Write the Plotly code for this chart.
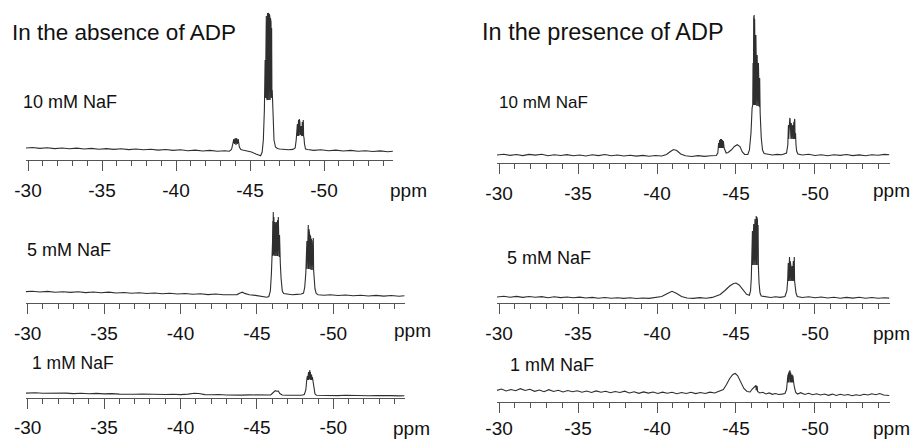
import plotly.graph_objects as go

# ---------------- data: (chemical shift ppm, signal intensity) ----------------
tick_values = [-30, -35, -40, -45, -50]
tick_labels = ["-30", "-35", "-40", "-45", "-50"]
unit_label = "ppm"
panel_titles = ["In the absence of ADP", "In the presence of ADP"]
conc_labels = ["10 mM NaF", "5 mM NaF", "1 mM NaF"]

abs_10mM = [
    (-29.85, 12.0), (-30.3, 12.5), (-30.8, 11.6), (-31.3, 12.2), (-31.8, 11.4), (-32.3, 12.0), (-32.8, 11.3),
    (-33.3, 11.9), (-33.8, 11.0), (-34.3, 11.6), (-34.8, 10.8), (-35.3, 11.4), (-35.8, 10.6), (-36.3, 11.2),
    (-36.8, 10.4), (-37.3, 11.0), (-37.8, 10.2), (-38.3, 10.8), (-38.8, 9.9), (-39.3, 10.5), (-39.8, 9.6),
    (-40.3, 10.2), (-40.8, 9.3), (-41.3, 9.9), (-41.8, 9.0), (-42.3, 9.6), (-42.8, 8.8), (-43.3, 9.3), (-43.6, 8.8),
    (-43.75, 10.5), (-43.85, 17), (-43.9, 21), (-43.95, 16), (-44.0, 22), (-44.05, 15), (-44.1, 22), (-44.15, 16),
    (-44.2, 21), (-44.28, 13), (-44.38, 10.5), (-44.5, 10.0), (-44.8, 9.3), (-45.1, 8.0), (-45.4, 6.0),
    (-45.6, 4.8), (-45.72, 4.3), (-45.82, 8), (-45.9, 20), (-45.97, 50),
    (-46.02, 100), (-46.04, 62), (-46.06, 140), (-46.08, 64), (-46.1, 144), (-46.12, 62), (-46.14, 146),
    (-46.16, 60), (-46.18, 147), (-46.2, 60), (-46.22, 147), (-46.24, 60), (-46.26, 146), (-46.28, 60),
    (-46.3, 146), (-46.32, 60), (-46.34, 144), (-46.36, 60), (-46.38, 142), (-46.4, 62), (-46.42, 138),
    (-46.44, 62), (-46.46, 132), (-46.48, 64), (-46.5, 70), (-46.55, 40),
    (-46.62, 20), (-46.72, 13), (-46.85, 11.5), (-47.0, 11.0), (-47.3, 10.5), (-47.6, 10.3), (-47.9, 10.6),
    (-48.05, 12), (-48.12, 20), (-48.16, 32), (-48.18, 24), (-48.2, 36), (-48.22, 24), (-48.24, 38),
    (-48.26, 24), (-48.28, 40), (-48.3, 24), (-48.33, 41), (-48.35, 24), (-48.37, 38), (-48.39, 25),
    (-48.41, 34), (-48.43, 25), (-48.45, 34), (-48.47, 25), (-48.49, 36), (-48.51, 24), (-48.53, 38),
    (-48.55, 24), (-48.57, 39), (-48.6, 40), (-48.62, 24), (-48.65, 22), (-48.68, 16),
    (-48.75, 11), (-48.9, 10.5), (-49.3, 9.6), (-49.8, 10.2), (-50.3, 9.3), (-50.8, 9.9), (-51.3, 9.0),
    (-51.8, 9.6), (-52.3, 8.7), (-52.8, 9.3), (-53.3, 8.5), (-53.8, 9.1), (-54.3, 8.3), (-54.65, 8.8),
]

abs_5mM = [
    (-29.85, 11.3), (-30.3, 11.8), (-30.8, 11.0), (-31.3, 11.6), (-31.8, 10.8), (-32.3, 11.3), (-32.8, 10.6),
    (-33.3, 11.2), (-33.8, 10.4), (-34.3, 11.0), (-34.8, 10.2), (-35.3, 10.9), (-35.8, 10.0), (-36.3, 10.5),
    (-36.8, 9.8), (-37.3, 10.3), (-37.8, 9.5), (-38.3, 10.0), (-38.8, 9.2), (-39.3, 9.8), (-39.8, 9.0),
    (-40.3, 9.5), (-40.8, 8.7), (-41.3, 9.2), (-41.8, 8.4), (-42.3, 9.0), (-42.8, 8.2), (-43.3, 8.7),
    (-43.7, 8.4), (-43.9, 10.0), (-44.05, 10.8), (-44.2, 9.6), (-44.5, 8.2), (-44.9, 7.6), (-45.2, 7.0),
    (-45.5, 6.0), (-45.65, 5.7), (-45.78, 6.5), (-45.88, 12), (-45.95, 30), (-46.0, 45),
    (-46.02, 60), (-46.04, 82), (-46.05, 47), (-46.07, 91), (-46.09, 48), (-46.11, 86), (-46.13, 47),
    (-46.15, 83), (-46.17, 47), (-46.19, 81), (-46.21, 47), (-46.23, 80), (-46.25, 47), (-46.27, 80),
    (-46.29, 47), (-46.31, 81), (-46.33, 47), (-46.35, 83), (-46.37, 47), (-46.4, 86), (-46.42, 47),
    (-46.44, 76), (-46.46, 46), (-46.48, 68), (-46.5, 46), (-46.53, 40),
    (-46.58, 25), (-46.66, 12), (-46.75, 9.5), (-47.0, 8.8), (-47.3, 8.3), (-47.6, 8.6), (-47.9, 9.0),
    (-48.05, 10), (-48.13, 16), (-48.2, 30), (-48.23, 50), (-48.25, 34), (-48.27, 62), (-48.29, 34),
    (-48.31, 70), (-48.33, 34), (-48.36, 78), (-48.38, 34), (-48.4, 74), (-48.42, 34), (-48.44, 70),
    (-48.46, 34), (-48.48, 68), (-48.5, 34), (-48.52, 66), (-48.54, 33), (-48.56, 64), (-48.58, 33),
    (-48.6, 62), (-48.62, 33), (-48.64, 60), (-48.66, 33), (-48.69, 65), (-48.71, 33), (-48.74, 28),
    (-48.8, 14), (-48.88, 9.5), (-49.0, 8.3), (-49.4, 7.8), (-49.8, 8.2), (-50.3, 7.5), (-50.8, 8.0),
    (-51.3, 7.2), (-51.8, 7.8), (-52.3, 7.0), (-52.8, 7.6), (-53.3, 6.9), (-53.8, 7.5), (-54.3, 6.8),
    (-54.65, 7.2),
]

abs_1mM = [
    (-29.85, 4.8), (-30.5, 5.2), (-31.0, 4.7), (-31.5, 5.0), (-32.0, 4.6), (-32.5, 4.9), (-33.0, 4.4),
    (-33.5, 4.8), (-34.0, 4.3), (-34.5, 4.6), (-35.0, 4.1), (-35.5, 4.4), (-36.0, 3.9), (-36.5, 4.2),
    (-37.0, 3.8), (-37.5, 4.0), (-38.0, 3.6), (-38.5, 3.9), (-39.0, 3.5), (-39.5, 3.8), (-40.0, 3.4),
    (-40.5, 3.9), (-40.9, 4.8), (-41.2, 4.5), (-41.6, 3.4), (-42.0, 3.2), (-42.5, 3.5), (-43.0, 3.0),
    (-43.5, 3.3), (-44.0, 2.9), (-44.5, 3.1), (-45.0, 2.8), (-45.5, 3.0), (-45.9, 3.0), (-46.0, 4.5),
    (-46.1, 6.5), (-46.2, 7.3), (-46.3, 6.8), (-46.4, 7.0), (-46.5, 4.5), (-46.65, 3.0), (-47.0, 2.8),
    (-47.5, 2.7), (-47.9, 2.8), (-48.1, 3.5), (-48.2, 8), (-48.26, 18), (-48.3, 22), (-48.32, 18),
    (-48.34, 23), (-48.36, 18), (-48.38, 26), (-48.4, 18), (-48.42, 27), (-48.44, 18), (-48.46, 28),
    (-48.48, 19), (-48.5, 26), (-48.52, 18), (-48.54, 24), (-48.56, 18), (-48.58, 23), (-48.6, 18),
    (-48.63, 21), (-48.66, 17), (-48.72, 10), (-48.8, 4), (-48.9, 2.8), (-49.3, 2.6), (-49.8, 2.9),
    (-50.3, 2.4), (-50.8, 2.7), (-51.3, 2.3), (-51.8, 2.6), (-52.3, 2.2), (-52.8, 2.5), (-53.3, 2.1),
    (-53.8, 2.4), (-54.3, 2.1), (-54.65, 2.3),
]

pres_10mM = [
    (-29.85, 8.0), (-30.3, 8.8), (-30.7, 7.6), (-31.1, 8.5), (-31.5, 7.4), (-31.9, 8.6), (-32.3, 7.9),
    (-32.7, 8.8), (-33.1, 7.3), (-33.5, 8.3), (-33.9, 7.5), (-34.3, 8.4), (-34.7, 7.2), (-35.1, 8.0),
    (-35.5, 7.0), (-35.9, 8.2), (-36.3, 7.4), (-36.7, 8.5), (-37.1, 7.2), (-37.5, 8.0), (-37.9, 7.0),
    (-38.3, 7.8), (-38.7, 6.9), (-39.1, 7.6), (-39.5, 6.8), (-39.9, 7.5), (-40.3, 7.0), (-40.6, 8.5),
    (-40.85, 11.5), (-41.05, 13.5), (-41.25, 12.5), (-41.5, 9.0), (-41.8, 7.2), (-42.2, 6.5), (-42.6, 7.4),
    (-43.0, 6.6), (-43.4, 7.2), (-43.75, 7.5), (-43.85, 10), (-43.9, 20), (-43.93, 15), (-43.96, 23),
    (-43.99, 15), (-44.02, 24), (-44.05, 15), (-44.08, 24), (-44.11, 15), (-44.14, 23), (-44.17, 15),
    (-44.2, 22), (-44.25, 15), (-44.3, 12), (-44.38, 10),
    (-44.5, 10.5), (-44.7, 13), (-44.9, 16.5), (-45.08, 18.3), (-45.25, 16.5), (-45.4, 11), (-45.55, 8.5),
    (-45.75, 8.5), (-45.85, 13), (-45.95, 30), (-46.02, 55), (-46.06, 58), (-46.08, 100), (-46.1, 58),
    (-46.12, 145), (-46.14, 58), (-46.15, 148), (-46.17, 58), (-46.18, 144), (-46.2, 58), (-46.22, 136),
    (-46.24, 58), (-46.26, 128), (-46.28, 58), (-46.3, 118), (-46.32, 57), (-46.34, 108), (-46.36, 57),
    (-46.38, 104), (-46.4, 57), (-46.42, 100), (-46.44, 57), (-46.46, 96), (-46.48, 56), (-46.5, 85),
    (-46.53, 50), (-46.6, 25),
    (-46.68, 13), (-46.78, 9.5), (-47.0, 8.8), (-47.3, 8.0), (-47.6, 8.6), (-47.9, 8.2), (-48.2, 10),
    (-48.28, 18), (-48.3, 28), (-48.32, 38), (-48.34, 24), (-48.36, 42), (-48.38, 24), (-48.4, 44),
    (-48.42, 45), (-48.44, 24), (-48.46, 42), (-48.48, 24), (-48.5, 40), (-48.52, 24), (-48.54, 38),
    (-48.56, 24), (-48.58, 37), (-48.6, 24), (-48.62, 38), (-48.64, 24), (-48.66, 41), (-48.68, 24),
    (-48.7, 43), (-48.72, 44), (-48.74, 24), (-48.77, 30), (-48.8, 18), (-48.84, 12),
    (-48.92, 9), (-49.2, 8.0), (-49.6, 8.8), (-50.0, 7.5), (-50.4, 8.3), (-50.8, 7.3), (-51.2, 8.2),
    (-51.6, 7.6), (-52.0, 8.5), (-52.4, 7.4), (-52.8, 8.1), (-53.2, 7.2), (-53.6, 8.3), (-54.0, 7.8),
    (-54.4, 8.6), (-54.7, 8.2),
]

pres_5mM = [
    (-29.85, 6.0), (-30.3, 6.8), (-30.7, 5.8), (-31.1, 6.6), (-31.5, 5.6), (-31.9, 6.5), (-32.3, 5.7),
    (-32.7, 6.4), (-33.1, 5.3), (-33.5, 6.2), (-33.9, 5.4), (-34.3, 6.0), (-34.7, 5.2), (-35.1, 5.9),
    (-35.5, 5.0), (-35.9, 5.6), (-36.3, 4.8), (-36.7, 5.5), (-37.1, 4.7), (-37.5, 5.3), (-37.9, 4.6),
    (-38.3, 5.2), (-38.7, 4.5), (-39.1, 5.0), (-39.5, 4.6), (-39.9, 5.3), (-40.3, 6.5), (-40.6, 9.0),
    (-40.95, 11.7), (-41.25, 9.5), (-41.55, 6.5), (-41.9, 5.0), (-42.3, 4.6), (-42.7, 5.4), (-43.1, 4.8),
    (-43.5, 5.6), (-43.8, 7.5), (-44.0, 8.5), (-44.3, 12.5), (-44.6, 17.0), (-44.85, 19.5), (-45.0, 20.0),
    (-45.2, 18.0), (-45.45, 12.5), (-45.67, 8.7), (-45.85, 7.8), (-45.92, 12), (-45.97, 25), (-46.0, 45),
    (-46.02, 50), (-46.04, 72), (-46.06, 38), (-46.08, 76), (-46.1, 38), (-46.12, 79), (-46.14, 38),
    (-46.16, 82), (-46.18, 38), (-46.2, 84), (-46.22, 38), (-46.24, 85), (-46.26, 38), (-46.28, 87),
    (-46.3, 38), (-46.32, 86), (-46.34, 38), (-46.36, 83), (-46.38, 38), (-46.4, 78), (-46.42, 36),
    (-46.46, 20), (-46.52, 10), (-46.6, 7), (-46.9, 6.2), (-47.2, 5.5), (-47.5, 6.3), (-47.8, 5.6),
    (-48.1, 6.5), (-48.22, 12), (-48.27, 22), (-48.29, 36), (-48.31, 40), (-48.33, 22), (-48.35, 44),
    (-48.37, 22), (-48.39, 46), (-48.41, 22), (-48.43, 42), (-48.45, 22), (-48.47, 38), (-48.49, 22),
    (-48.51, 36), (-48.53, 22), (-48.55, 37), (-48.57, 22), (-48.59, 39), (-48.61, 22), (-48.63, 42),
    (-48.65, 22), (-48.67, 45), (-48.69, 46), (-48.71, 22), (-48.74, 18), (-48.8, 10),
    (-48.88, 6.5), (-49.2, 5.5), (-49.6, 6.3), (-50.0, 5.2), (-50.4, 6.0), (-50.8, 5.0),
    (-51.2, 5.8), (-51.6, 4.8), (-52.0, 5.6), (-52.4, 4.9), (-52.8, 5.7), (-53.2, 4.8), (-53.6, 5.5),
    (-54.0, 4.7), (-54.4, 5.3), (-54.7, 4.9),
]

pres_1mM = [
    (-29.85, 11), (-30.15, 12.5), (-30.45, 10.5), (-30.75, 12.0), (-31.05, 10.8), (-31.35, 12.8),
    (-31.65, 11.0), (-31.95, 12.2), (-32.25, 10.2), (-32.55, 11.5), (-32.85, 9.8), (-33.15, 11.8),
    (-33.45, 10.0), (-33.75, 11.2), (-34.05, 9.5), (-34.35, 11.0), (-34.65, 9.8), (-34.95, 10.8),
    (-35.25, 9.2), (-35.55, 10.5), (-35.85, 9.0), (-36.15, 10.6), (-36.45, 9.3), (-36.75, 10.2),
    (-37.05, 8.8), (-37.35, 10.0), (-37.65, 9.0), (-37.95, 10.3), (-38.25, 8.5), (-38.55, 9.8),
    (-38.85, 8.2), (-39.15, 9.6), (-39.45, 8.4), (-39.75, 9.5), (-40.05, 8.0), (-40.35, 9.4), (-40.65, 8.2),
    (-40.95, 9.2), (-41.25, 7.8), (-41.55, 9.0), (-41.85, 8.0), (-42.15, 9.3), (-42.45, 7.9), (-42.75, 9.0),
    (-43.05, 8.0), (-43.35, 9.4), (-43.65, 8.5), (-43.95, 10.0), (-44.2, 12), (-44.4, 17), (-44.6, 23),
    (-44.8, 27), (-44.95, 28), (-45.1, 26), (-45.3, 20), (-45.5, 13), (-45.7, 10), (-45.9, 9.5),
    (-46.0, 12), (-46.1, 13.5), (-46.2, 14.5), (-46.26, 16), (-46.28, 11), (-46.3, 15.5), (-46.32, 11),
    (-46.34, 15), (-46.37, 10), (-46.5, 8.5), (-46.7, 9.2), (-46.9, 7.5), (-47.1, 8.6), (-47.3, 7.2),
    (-47.5, 8.0), (-47.7, 7.0), (-47.9, 7.4), (-48.1, 8), (-48.2, 12), (-48.25, 24), (-48.27, 19),
    (-48.29, 27), (-48.31, 19), (-48.33, 29), (-48.35, 19), (-48.38, 30), (-48.4, 19), (-48.42, 31),
    (-48.44, 19), (-48.46, 29), (-48.48, 19), (-48.5, 28), (-48.52, 19), (-48.55, 27), (-48.57, 19),
    (-48.6, 26), (-48.62, 19), (-48.65, 19), (-48.7, 14),
    (-48.78, 9), (-48.9, 7.5), (-49.1, 8.8), (-49.35, 7.0), (-49.6, 8.2), (-49.85, 6.8), (-50.1, 7.8),
    (-50.35, 6.5), (-50.6, 7.5), (-50.85, 6.2), (-51.1, 7.4), (-51.35, 6.0), (-51.6, 7.2), (-51.85, 6.3),
    (-52.1, 7.0), (-52.35, 5.8), (-52.6, 6.8), (-52.85, 6.0), (-53.1, 7.2), (-53.35, 6.5), (-53.6, 7.8),
    (-53.85, 6.8), (-54.1, 8.0), (-54.35, 6.5), (-54.7, 6.0),
]

# ---------------- layout (pixel geometry of the 913 x 439 canvas) ----------------
W, H = 913, 439
FONT = "Liberation Sans, Arial, sans-serif"
LINE = "#2e2e2e"
AXC = "#555555"

panels = [
    dict(spec=abs_10mM, xd=(26, 393), xr=(-29.865, -54.66), ay=160, top=0, so=3,
         lab=(conc_labels[0], 21, 102, 18), unit=(408, 190)),
    dict(spec=abs_5mM, xd=(26, 405), xr=(-29.89, -54.69), ay=303, top=200, so=3,
         lab=(conc_labels[1], 25, 250, 18), unit=(412, 330)),
    dict(spec=abs_1mM, xd=(26, 405), xr=(-29.89, -54.69), ay=398, top=340, so=2,
         lab=(conc_labels[2], 30, 363, 17.5), unit=(411, 428)),
    dict(spec=pres_10mM, xd=(497, 890), xr=(-29.87, -54.75), ay=163, top=0, so=3,
         lab=(conc_labels[0], 497, 102, 17), unit=(891, 190)),
    dict(spec=pres_5mM, xd=(497, 890), xr=(-29.87, -54.75), ay=303, top=200, so=3,
         lab=(conc_labels[1], 505, 258, 18), unit=(891, 333)),
    dict(spec=pres_1mM, xd=(497, 890), xr=(-29.87, -54.75), ay=401.5, top=340, so=0,
         lab=(conc_labels[2], 508, 365, 18), unit=(891, 428)),
]

fig = go.Figure()
annotations = []
layout_axes = {}

for i, p in enumerate(panels, start=1):
    xs = [pt[0] for pt in p["spec"]]
    ys = [pt[1] for pt in p["spec"]]
    suffix = "" if i == 1 else str(i)
    fig.add_trace(go.Scatter(
        x=xs, y=ys, mode="lines", xaxis="x" + suffix, yaxis="y" + suffix,
        line=dict(color=LINE, width=1.1), hoverinfo="skip", showlegend=False,
    ))
    layout_axes["xaxis" + suffix] = dict(
        domain=[p["xd"][0] / W, p["xd"][1] / W],
        range=list(p["xr"]), anchor="y" + suffix,
        showline=True, linecolor=AXC, linewidth=1.2, showgrid=False, zeroline=False,
        tickmode="array", tickvals=tick_values, ticktext=tick_labels,
        ticks="outside", ticklen=10, tickwidth=1.2, tickcolor=AXC,
        ticklabelstandoff=p["so"],
        tickfont=dict(family=FONT, size=19, color="#111111"),
        minor=dict(tickmode="linear", tick0=-30, dtick=1, ticks="outside",
                   ticklen=5, tickwidth=1, tickcolor=AXC, showgrid=False),
        fixedrange=True, automargin=False,
    )
    layout_axes["yaxis" + suffix] = dict(
        domain=[1 - p["ay"] / H, 1 - p["top"] / H],
        range=[0, p["ay"] - p["top"]], anchor="x" + suffix,
        visible=False, fixedrange=True,
    )
    text, lx, ly, lsize = p["lab"]
    annotations.append(dict(text=text, x=lx / W, y=1 - ly / H, xref="paper", yref="paper",
                            xanchor="left", yanchor="middle", showarrow=False,
                            font=dict(family=FONT, size=lsize, color="#111111")))
    ux, uy = p["unit"]
    annotations.append(dict(text=unit_label, x=ux / W, y=1 - uy / H, xref="paper", yref="paper",
                            xanchor="center", yanchor="middle", showarrow=False,
                            font=dict(family=FONT, size=19, color="#111111")))

annotations.append(dict(text=panel_titles[0], x=10 / W, y=1 - 32 / H, xref="paper", yref="paper",
                        xanchor="left", yanchor="middle", showarrow=False,
                        font=dict(family=FONT, size=22.5, color="#111111")))
annotations.append(dict(text=panel_titles[1], x=480 / W, y=1 - 32 / H, xref="paper", yref="paper",
                        xanchor="left", yanchor="middle", showarrow=False,
                        font=dict(family=FONT, size=23.5, color="#111111")))

fig.update_layout(
    width=W, height=H, margin=dict(l=0, r=0, t=0, b=0, autoexpand=False),
    paper_bgcolor="white", plot_bgcolor="rgba(0,0,0,0)",
    showlegend=False, annotations=annotations, **layout_axes,
)

fig.write_html(
    "out.html",
    config={"displayModeBar": False},
    post_script="document.body.style.margin='0';document.body.style.overflow='hidden';",
)
